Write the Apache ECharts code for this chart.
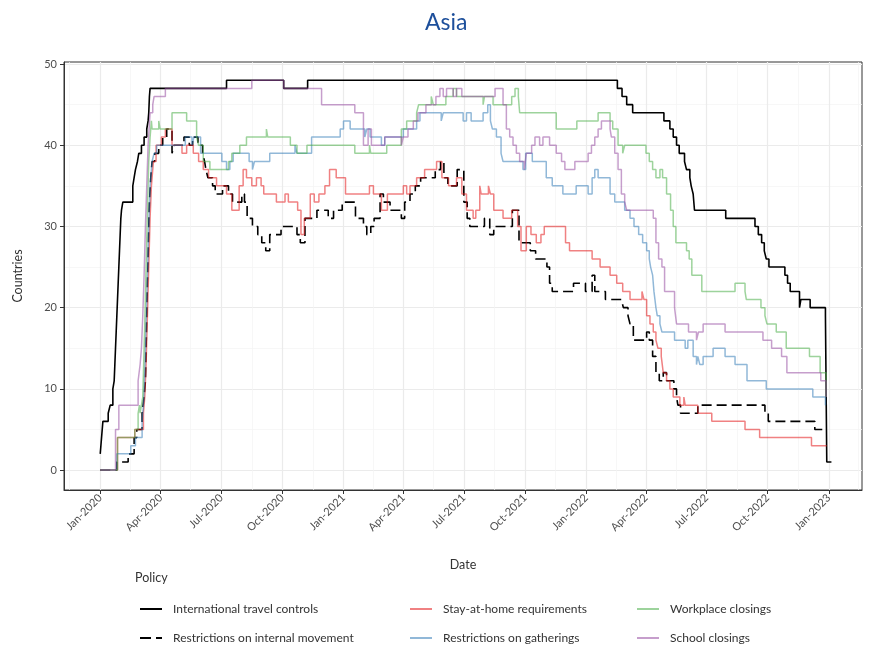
<!DOCTYPE html>
<html>
<head>
<meta charset="utf-8">
<script src="https://cdn.jsdelivr.net/npm/echarts@6/dist/echarts.min.js"></script>
<style>
html,body{margin:0;padding:0;background:#fff}
#chart{width:870px;height:649px}
</style>
</head>
<body>
<div id="chart"></div>
<script>
// Number of Asian countries with each policy in force.
// Each pair is [days since 1 Jan 2020, countries]; the value holds until the next pair.
const travelControls = [[0,2],[1,3],[4,6],[12,7],[15,8],[19,10],[21,11],[22,13],[23,15],[24,17],[25,19],[26,21],[27,23],[28,25],[29,27],[30,29],[31,31],[32,32],[34,33],[49,35],[51,36],[53,37],[56,38],[58,39],[62,40],[66,41],[70,42],[72,43],[73,44],[74,46],[75,47],[190,48],[276,47],[312,48],[778,47],[785,46],[792,45],[801,44],[848,43],[857,42],[862,41],[867,40],[871,39],[879,38],[882,37],[887,36],[889,35],[892,34],[894,32],[941,31],[985,30],[990,29],[995,28],[999,27],[1002,26],[1006,25],[1030,24],[1034,23],[1038,22],[1052,20],[1054,21],[1068,20],[1091,19],[1093,1],[1100,1]];

const internalMovement = [[0,0],[25,1],[42,2],[51,4],[55,5],[63,7],[66,9],[68,11],[69,15],[70,19],[71,23],[72,26],[73,30],[74,33],[76,36],[78,38],[82,39],[88,40],[94,41],[100,42],[108,39],[111,40],[126,41],[134,40],[139,41],[147,40],[154,39],[157,38],[159,37],[162,36],[169,35],[173,34],[184,35],[193,34],[199,33],[213,34],[217,33],[221,31],[229,30],[237,29],[243,28],[249,27],[255,29],[272,30],[296,29],[301,28],[308,31],[322,31],[326,32],[343,31],[351,32],[364,33],[384,31],[396,30],[401,29],[407,30],[412,31],[421,34],[426,33],[436,32],[453,31],[458,33],[466,34],[474,35],[482,36],[499,36],[504,37],[512,38],[517,36],[523,35],[537,37],[547,33],[552,31],[556,30],[578,31],[586,29],[592,30],[609,30],[620,32],[630,28],[637,28],[647,27],[655,26],[664,26],[672,25],[676,23],[680,22],[712,23],[730,22],[740,24],[744,22],[760,21],[784,21],[787,20],[794,19],[797,18],[802,16],[822,17],[826,16],[831,14],[836,12],[841,11],[847,12],[852,11],[863,10],[867,9],[869,8],[873,7],[899,8],[1000,7],[1005,6],[1075,5],[1093,5]];

const stayAtHome = [[0,0],[26,4],[52,5],[65,7],[67,9],[69,13],[71,19],[73,25],[75,31],[77,35],[80,38],[84,40],[92,41],[98,42],[108,40],[123,39],[130,40],[140,39],[148,38],[155,37],[163,36],[175,35],[190,34],[198,32],[209,35],[215,37],[220,36],[228,35],[235,36],[242,35],[246,34],[265,33],[278,34],[283,33],[297,32],[302,29],[307,31],[316,34],[322,33],[329,34],[338,35],[345,37],[355,36],[369,34],[405,35],[411,34],[423,32],[432,34],[456,35],[461,34],[466,35],[476,36],[488,37],[506,38],[514,36],[524,35],[536,36],[544,34],[551,32],[561,31],[565,32],[571,35],[573,34],[584,35],[587,34],[592,32],[606,31],[619,32],[628,30],[633,27],[641,30],[648,29],[656,28],[663,29],[668,30],[700,28],[706,27],[740,26],[752,25],[767,24],[777,23],[786,22],[797,21],[815,22],[818,21],[822,19],[827,18],[832,17],[836,16],[839,15],[844,14],[847,12],[852,11],[857,10],[862,9],[872,8],[878,9],[880,8],[899,7],[920,6],[970,5],[992,4],[1070,3],[1093,3]];

const gatherings = [[0,0],[25,2],[46,3],[53,4],[63,6],[65,8],[67,12],[69,18],[71,24],[73,30],[75,35],[78,38],[81,39],[85,40],[128,41],[138,40],[141,41],[151,39],[183,38],[190,37],[195,38],[200,39],[224,38],[229,37],[232,38],[255,39],[293,40],[296,39],[318,41],[361,42],[366,43],[376,42],[398,41],[401,42],[406,41],[423,40],[428,41],[456,42],[476,43],[481,44],[513,43],[516,44],[546,43],[551,44],[558,43],[576,44],[583,45],[587,43],[590,42],[596,41],[603,39],[606,38],[636,37],[640,39],[650,38],[671,36],[680,35],[696,34],[716,35],[734,34],[740,36],[744,37],[749,36],[767,34],[774,33],[789,32],[797,31],[803,30],[810,29],[816,28],[822,27],[826,26],[828,25],[831,24],[833,22],[836,20],[838,19],[842,18],[845,17],[864,16],[880,15],[884,16],[892,14],[897,13],[899,14],[902,13],[907,14],[922,15],[940,14],[955,13],[973,11],[1002,10],[1072,9],[1091,8]];

const workplace = [[0,0],[26,4],[52,5],[57,7],[59,8],[60,7],[62,8],[64,9],[65,12],[67,18],[69,25],[71,32],[73,38],[75,41],[77,43],[78,42],[88,43],[90,42],[108,44],[130,43],[145,41],[148,40],[155,38],[165,37],[193,38],[198,39],[210,40],[220,41],[250,42],[252,41],[286,40],[296,39],[311,40],[383,39],[405,40],[407,39],[431,40],[453,42],[461,43],[476,44],[479,45],[498,46],[501,45],[520,46],[531,47],[536,46],[576,45],[578,46],[591,45],[619,46],[624,47],[629,46],[631,44],[686,42],[717,43],[749,44],[767,43],[771,42],[779,40],[786,39],[789,40],[821,39],[826,38],[831,37],[836,36],[842,37],[846,36],[852,34],[858,32],[862,30],[866,28],[882,27],[886,26],[890,24],[905,22],[955,23],[970,22],[972,21],[994,20],[1000,19],[1003,18],[1017,17],[1032,15],[1067,14],[1083,12],[1092,9]];

const schools = [[0,0],[23,5],[28,8],[57,11],[60,13],[62,15],[64,19],[66,24],[68,30],[70,35],[72,40],[75,44],[79,45],[81,46],[98,47],[228,48],[276,47],[333,45],[383,44],[396,40],[403,42],[408,40],[428,41],[453,40],[456,41],[463,42],[471,43],[478,44],[490,45],[505,46],[511,47],[516,46],[521,47],[531,46],[536,47],[544,46],[594,47],[606,45],[611,42],[616,41],[621,40],[626,39],[631,38],[638,37],[641,39],[649,40],[654,41],[661,40],[666,41],[676,40],[686,39],[694,38],[699,37],[714,38],[734,39],[739,40],[744,41],[749,42],[754,43],[767,42],[769,41],[774,39],[779,37],[784,34],[789,33],[792,32],[832,31],[836,28],[840,26],[845,25],[849,22],[864,20],[867,18],[885,17],[897,16],[900,17],[907,18],[940,17],[997,16],[1010,15],[1025,14],[1033,12],[1084,11],[1092,9]];

const policyNames = ['International travel controls','Restrictions on internal movement','Stay-at-home requirements','Restrictions on gatherings','Workplace closings','School closings'];

const majorDates = ['2020-01-01','2020-04-01','2020-07-01','2020-10-01','2021-01-01','2021-04-01','2021-07-01','2021-10-01','2022-01-01','2022-04-01','2022-07-01','2022-10-01','2023-01-01'];
const minorDates = ['2019-11-16','2020-02-15','2020-05-16','2020-08-16','2020-11-16','2021-02-15','2021-05-16','2021-08-16','2021-11-16','2022-02-15','2022-05-16','2022-08-16','2022-11-16','2023-02-15'];
const yTicks = [0,10,20,30,40,50];
const yMinor = [5,15,25,35,45];

const MONTHS = ['Jan','Feb','Mar','Apr','May','Jun','Jul','Aug','Sep','Oct','Nov','Dec'];
const DAY_MS = 86400000;
const START = Date.UTC(2020,0,1);
const parseDate = s => { const [y,m,d] = s.split('-').map(Number); return Date.UTC(y,m-1,d); };
const fromDay = d => START + d*DAY_MS;

const FONT = 'Lato';
// dates are plotted as UTC timestamps on a numeric axis
const xMin = fromDay(-54.5), xMax = fromDay(1146);
const yMin = -2.45, yMax = 50.25;

const styles = [
  {color:'#000000', width:1.6, opacity:1, type:'solid'},
  {color:'#000000', width:1.6, opacity:1, type:[10,5]},
  {color:'#E41A1C', width:1.5, opacity:0.55, type:'solid'},
  {color:'#377EB8', width:1.5, opacity:0.55, type:'solid'},
  {color:'#4DAF4A', width:1.5, opacity:0.55, type:'solid'},
  {color:'#984EA3', width:1.5, opacity:0.55, type:'solid'}
];
// legend keys: a solid bar, or a long and a short dash
const SOLID_KEY = 'path://M0,0H22V1.6H0Z';
const DASHED_KEY = 'path://M0,0H11V1.6H0Z M16,0H22V1.6H16Z';

const allData = [travelControls, internalMovement, stayAtHome, gatherings, workplace, schools];

const series = allData.map((rows, i) => ({
  name: policyNames[i],
  type: 'line',
  step: 'end',
  symbol: 'none',
  silent: true,
  xAxisIndex: 0, yAxisIndex: 0,
  z: 2 + i,
  data: rows.map(([d, v]) => [fromDay(d), v]),
  itemStyle: {color: styles[i].color, opacity: styles[i].opacity},
  lineStyle: {color: styles[i].color, width: styles[i].width, opacity: styles[i].opacity, type: styles[i].type, cap: 'butt'},
  emphasis: {disabled: true}
}));

// legend laid out as three columns of two rows
const legendPos = [[135, 598], [135, 627], [405, 598], [405, 627], [632, 598], [632, 627]];
const legends = policyNames.map((name, i) => ({
  data: [{name: name, icon: i === 1 ? DASHED_KEY : SOLID_KEY}],
  left: legendPos[i][0], top: legendPos[i][1],
  itemWidth: 22, itemHeight: 2, symbolKeepAspect: false,
  selectedMode: false,
  textStyle: {fontFamily: FONT, fontSize: 12, color: '#333', padding: [0, 0, 0, 6]}
}));

const chart = echarts.init(document.getElementById('chart'), null, {renderer: 'canvas'});
chart.setOption({
  animation: false,
  backgroundColor: '#fff',
  title: [
    {text: 'Asia', left: 420, top: 6, textStyle: {fontFamily: FONT, fontSize: 23, fontWeight: 'normal', color: '#1d4f9b'}},
    {text: 'Policy', left: 130, top: 566, textStyle: {fontFamily: FONT, fontSize: 12.5, fontWeight: 'normal', color: '#333'}}
  ],
  legend: legends,
  grid: {left: 64, top: 62, right: 8, bottom: 159, show: true, borderColor: '#333', borderWidth: 1, backgroundColor: 'transparent', containLabel: false},
  xAxis: [
    {
      type: 'value', min: xMin, max: xMax,
      name: 'Date', nameLocation: 'middle', nameGap: 68,
      nameTextStyle: {fontFamily: FONT, fontSize: 12.5, color: '#333'},
      axisLine: {show: true, onZero: false, lineStyle: {color: '#333', width: 1}},
      axisTick: {show: true, length: 4, customValues: majorDates.map(parseDate), lineStyle: {color: '#333'}},
      axisLabel: {
        customValues: majorDates.map(parseDate), rotate: 45, margin: 6,
        fontFamily: FONT, fontSize: 11, color: '#4d4d4d',
        formatter: v => { const d = new Date(v); return MONTHS[d.getUTCMonth()] + '-' + d.getUTCFullYear(); }
      },
      splitLine: {show: true, lineStyle: {color: '#ebebeb', width: 1.2}}
    },
    {
      type: 'value', min: xMin, max: xMax, position: 'bottom',
      axisLine: {show: false}, axisLabel: {show: false},
      axisTick: {show: false, customValues: minorDates.map(parseDate)},
      splitLine: {show: true, lineStyle: {color: '#f3f3f3', width: 0.7}}
    }
  ],
  yAxis: [
    {
      type: 'value', min: yMin, max: yMax,
      name: 'Countries', nameLocation: 'middle', nameGap: 40,
      nameTextStyle: {fontFamily: FONT, fontSize: 12.5, color: '#333'},
      axisLine: {show: true, onZero: false, lineStyle: {color: '#333', width: 1}},
      axisTick: {show: true, length: 4, customValues: yTicks, lineStyle: {color: '#333'}},
      axisLabel: {customValues: yTicks, margin: 7, fontFamily: FONT, fontSize: 11, color: '#4d4d4d'},
      splitLine: {show: true, lineStyle: {color: '#ebebeb', width: 1.2}}
    },
    {
      type: 'value', min: yMin, max: yMax, position: 'left',
      axisLine: {show: false}, axisLabel: {show: false},
      axisTick: {show: false, customValues: yMinor},
      splitLine: {show: true, lineStyle: {color: '#f3f3f3', width: 0.7}}
    }
  ],
  series: series
});
</script>
</body>
</html>
